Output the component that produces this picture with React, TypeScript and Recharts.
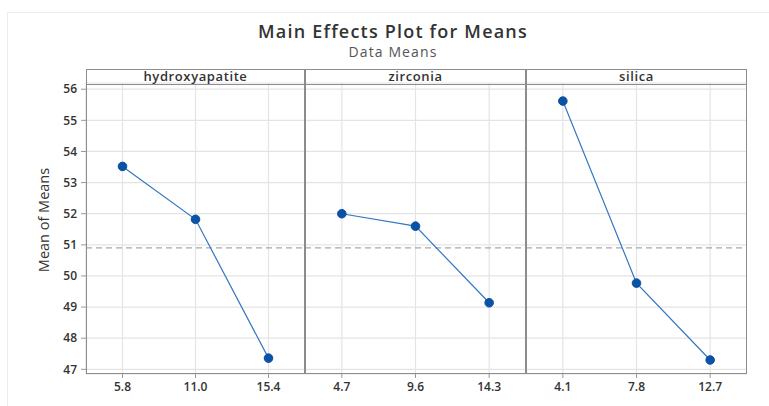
import { CartesianGrid, Line, LineChart, ReferenceLine, XAxis, YAxis } from "recharts";

const factors = ["hydroxyapatite", "zirconia", "silica"];
const hydroxyapatiteLevels = ["5.8", "11.0", "15.4"];
const hydroxyapatiteMeans = [53.52, 51.82, 47.36];
const zirconiaLevels = ["4.7", "9.6", "14.3"];
const zirconiaMeans = [52.0, 51.6, 49.14];
const silicaLevels = ["4.1", "7.8", "12.7"];
const silicaMeans = [55.62, 49.77, 47.3];
const yTicks = [47, 48, 49, 50, 51, 52, 53, 54, 55, 56];
const grandMean = 50.9;

const FONT = '"Open Sans", "Noto Sans", sans-serif';
const FRAME = "#8c8c8c";

interface PanelProps {
  name: string;
  levels: string[];
  means: number[];
  left: number;
  width: number;
  showY?: boolean;
}

function Panel({ name, levels, means, left, width, showY }: PanelProps) {
  const data = levels.map((level, i) => ({ pos: i + 1, level, mean: means[i] }));
  const yW = showY ? 86 : 0;
  const tickStyle = { fontFamily: FONT, fontSize: 12, fontWeight: 600, fill: "#333" };
  return (
    <>
      <div style={{ position: "absolute", left: left - yW, top: 75 }}>
        <LineChart width={width + yW} height={330} data={data} margin={{ top: 8, right: 0, bottom: 0, left: 0 }}>
          <CartesianGrid stroke="#e4e4e4" strokeWidth={1.2} />
          <XAxis
            dataKey="pos"
            type="number"
            domain={[0.5, 3.5]}
            ticks={[1, 2, 3]}
            tickFormatter={(v) => levels[Number(v) - 1]}
            height={31}
            axisLine={false}
            tickSize={4}
            tickMargin={4}
            tickLine={{ stroke: "#999" }}
            tick={tickStyle}
            interval={0}
          />
          <YAxis
            hide={!showY}
            width={86}
            type="number"
            domain={[46.85, 56.2]}
            allowDataOverflow
            ticks={yTicks}
            axisLine={false}
            tickSize={5}
            tickMargin={4}
            tickLine={{ stroke: "#999" }}
            tick={tickStyle}
            interval={0}
          />
          <ReferenceLine y={grandMean} stroke="#a8a8a8" strokeDasharray="6 4" strokeWidth={1.2} />
          <Line
            dataKey="mean"
            stroke="#3477c2"
            strokeWidth={1.2}
            dot={{ r: 4.3, fill: "#0a52a5", stroke: "#0a52a5", strokeWidth: 1 }}
            isAnimationActive={false}
          />
        </LineChart>
      </div>
      <div
        style={{
          position: "absolute",
          left,
          top: 69,
          width,
          height: 305,
          boxSizing: "border-box",
          border: `1px solid ${FRAME}`,
          pointerEvents: "none",
        }}
      >
        <div
          style={{
            height: 14,
            lineHeight: "13px",
            borderBottom: `1px solid ${FRAME}`,
            textAlign: "center",
            fontFamily: FONT,
            fontSize: 13,
            fontWeight: 600,
            letterSpacing: 0.6,
            color: "#333",
          }}
        >
          {name}
        </div>
      </div>
    </>
  );
}

export default function App() {
  return (
    <div style={{ position: "absolute", left: 0, top: 0, width: 769, height: 406, background: "#fff", overflow: "hidden" }}>
      <div style={{ position: "absolute", left: 7, top: 12, width: 780, height: 420, borderTop: "1px solid #ececec", borderLeft: "1px solid #ececec" }} />
      <div
        style={{
          position: "absolute",
          left: 193,
          top: 19,
          width: 400,
          textAlign: "center",
          fontFamily: FONT,
          fontSize: 18,
          fontWeight: 600,
          letterSpacing: 1.2,
          color: "#333",
        }}
      >
        Main Effects Plot for Means
      </div>
      <div
        style={{
          position: "absolute",
          left: 193,
          top: 42,
          width: 400,
          textAlign: "center",
          fontFamily: FONT,
          fontSize: 14,
          letterSpacing: 1.1,
          color: "#555",
        }}
      >
        Data Means
      </div>
      <div
        style={{
          position: "absolute",
          left: 44 - 60,
          top: 220 - 10,
          width: 120,
          height: 20,
          lineHeight: "20px",
          textAlign: "center",
          transform: "rotate(-90deg)",
          fontFamily: FONT,
          fontSize: 14.5,
          color: "#333",
        }}
      >
        Mean of Means
      </div>
      <Panel name={factors[0]} levels={hydroxyapatiteLevels} means={hydroxyapatiteMeans} left={86} width={219} showY />
      <Panel name={factors[1]} levels={zirconiaLevels} means={zirconiaMeans} left={305} width={221} />
      <Panel name={factors[2]} levels={silicaLevels} means={silicaMeans} left={526} width={221} />
    </div>
  );
}
